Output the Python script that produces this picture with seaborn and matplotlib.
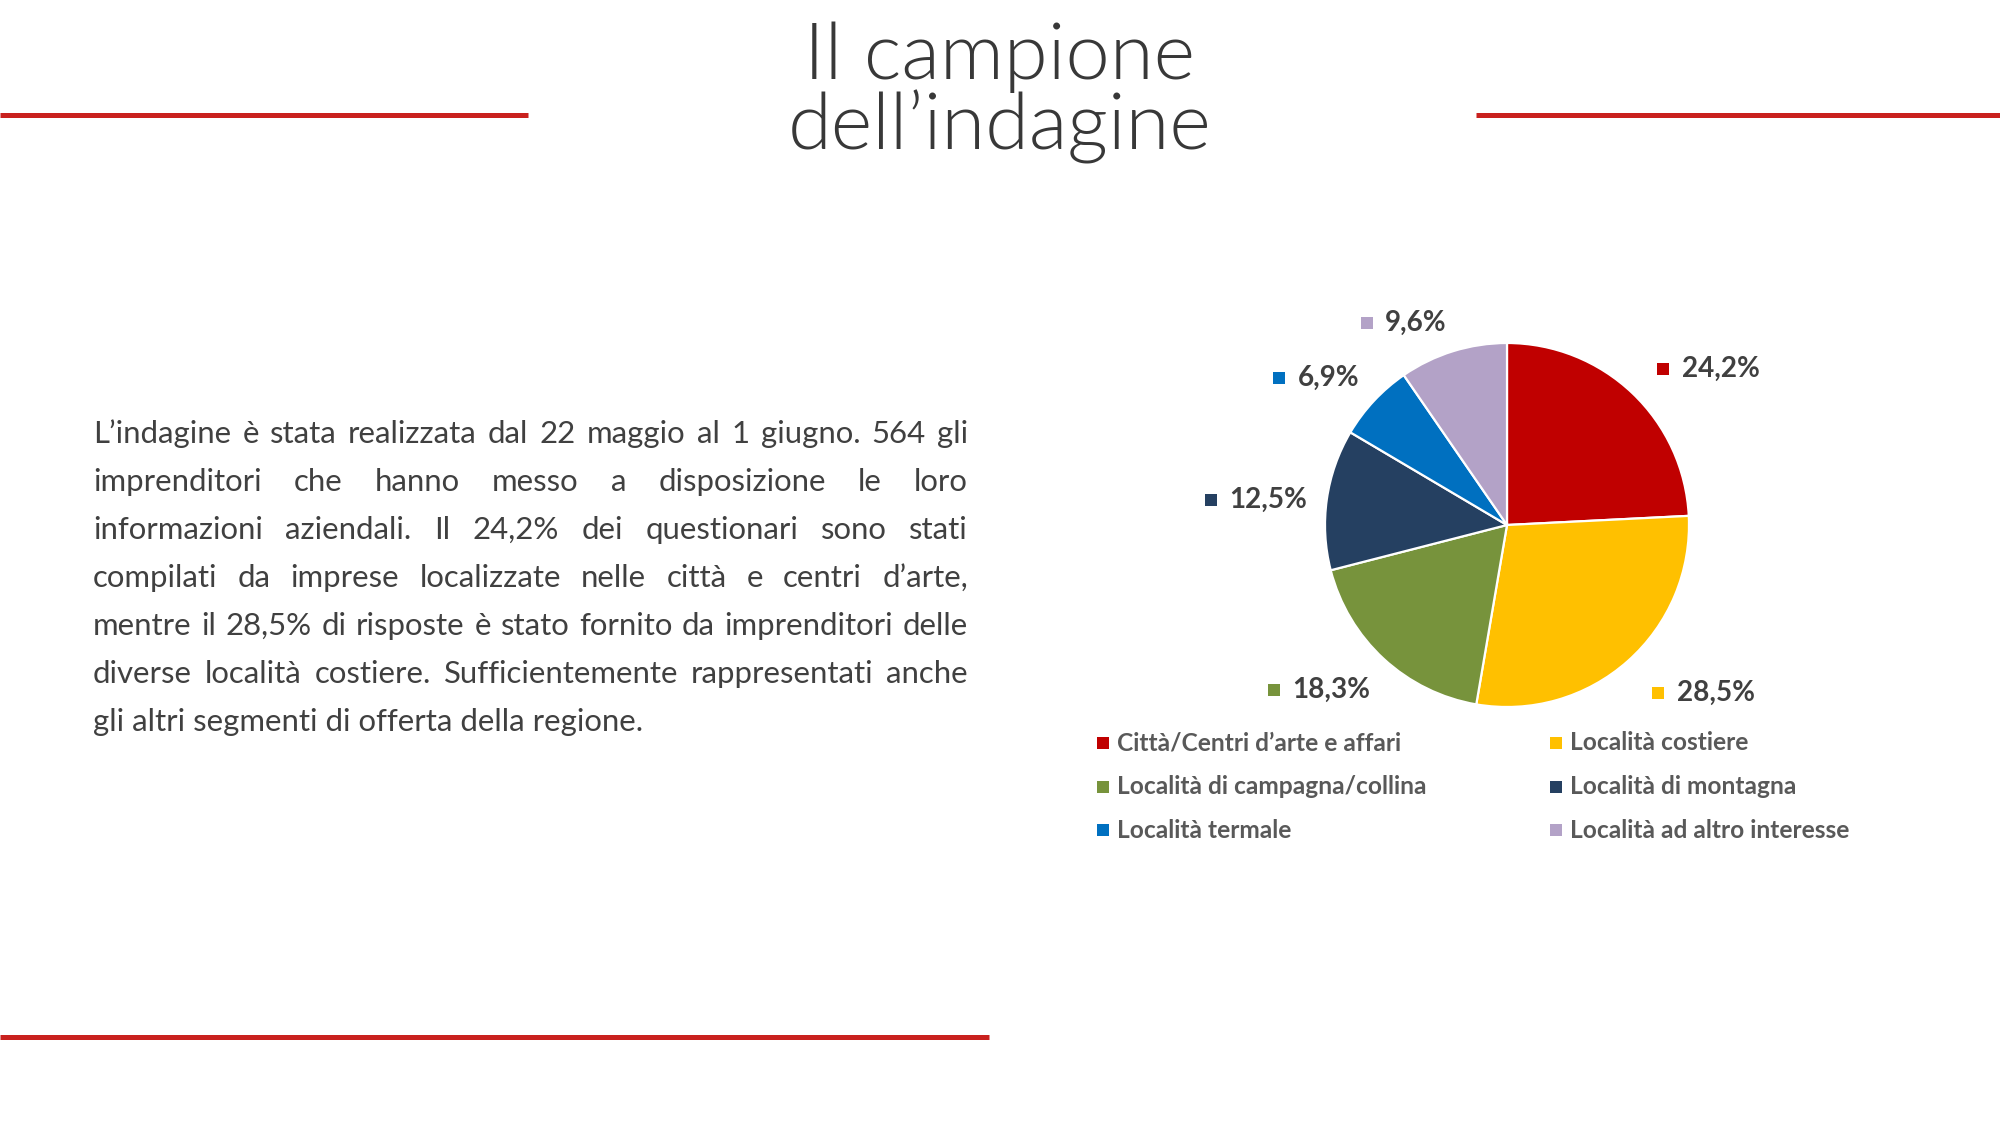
import matplotlib
matplotlib.use("Agg")
import matplotlib.pyplot as plt
import numpy as np
import seaborn as sns
from matplotlib.patches import Rectangle
from matplotlib.offsetbox import AnnotationBbox, HPacker, TextArea, DrawingArea

# dati del grafico
categorie = ["Città/Centri d’arte e affari", "Località costiere",
             "Località di campagna/collina", "Località di montagna",
             "Località termale", "Località ad altro interesse"]
quote = [24.2, 28.5, 18.3, 12.5, 6.9, 9.6]
colori = ["#C00000", "#FFC000", "#77933C", "#254061", "#0070C0", "#B3A2C7"]
etichette = [f"{v:.1f}".replace(".", ",") + "%" for v in quote]

titolo = ["Il campione", "dell’indagine"]
testo = [
    "L’indagine è stata realizzata dal 22 maggio al 1 giugno. 564 gli",
    "imprenditori che hanno messo a disposizione le loro",
    "informazioni aziendali. Il 24,2% dei questionari sono stati",
    "compilati da imprese localizzate nelle città e centri d’arte,",
    "mentre il 28,5% di risposte è stato fornito da imprenditori delle",
    "diverse località costiere. Sufficientemente rappresentati anche",
    "gli altri segmenti di offerta della regione.",
]

sns.set_theme(style="white")
plt.rcParams["font.family"] = ["Lato", "DejaVu Sans"]

W, H = 2000, 1125
fig = plt.figure(figsize=(20, 11.25), dpi=100, facecolor="white")
renderer = fig.canvas.get_renderer()

# asse di sfondo in pixel (y dall'alto)
bg = fig.add_axes([0, 0, 1, 1])
bg.set_xlim(0, W)
bg.set_ylim(H, 0)
bg.axis("off")


def misura(s, size, **kw):
    t = bg.text(0, 0, s, fontsize=size, **kw)
    w = t.get_window_extent(renderer).width
    t.remove()
    return w


grigio = "#404040"
rosso_linee = "#C9211E"

# linee rosse decorative
bg.plot([0, 528], [114.5, 114.5], color=rosso_linee, lw=3.6, solid_capstyle="butt")
bg.plot([1476, W], [114.5, 114.5], color=rosso_linee, lw=3.6, solid_capstyle="butt")
bg.plot([0, 989], [1036.5, 1036.5], color=rosso_linee, lw=3.6, solid_capstyle="butt")

# titolo
fs_tit = 40 * 390 / misura(titolo[0], 40, fontweight=300)
for riga, yb in zip(titolo, [79, 149]):
    bg.text(1000, yb, riga, fontsize=fs_tit, fontweight=300, color="#383838",
            ha="center", va="baseline")

# testo giustificato
x0, x1 = 93, 968
larg = x1 - x0
nat = max(misura(r, 20) for r in testo[:-1])
fs_txt = 20 * 0.985 * larg / nat
for i, riga in enumerate(testo):
    yb = 443 + i * 48
    parole = riga.split(" ")
    if i == len(testo) - 1:
        bg.text(x0, yb, riga, fontsize=fs_txt, color=grigio, va="baseline")
        continue
    wp = [misura(p, fs_txt) for p in parole]
    spazio = (larg - sum(wp)) / (len(parole) - 1)
    x = x0
    for p, w in zip(parole, wp):
        bg.text(x, yb, p, fontsize=fs_txt, color=grigio, va="baseline")
        x += w + spazio

# legenda
fs_leg = 15 * 285 / misura(categorie[0], 15, fontweight="bold")
col_x = [1097, 1550]
riga_y = [743, 787, 830]
for i, (cat, c) in enumerate(zip(categorie, colori)):
    xs = col_x[i % 2]
    ys = riga_y[i // 2]
    bg.add_patch(Rectangle((xs, ys - 6), 12, 12, facecolor=c, edgecolor="none"))
    bg.text(xs + 20, ys, cat, fontsize=fs_leg, fontweight="bold", color="#595959",
            va="center")

# torta
R = 182
cx, cy = 1507, 525
L = 1.7
pax = fig.add_axes([(cx - R * L) / W, (H - cy - R * L) / H, 2 * R * L / W, 2 * R * L / H])
wedges, _ = pax.pie(quote, colors=sns.color_palette(colori), startangle=90,
                    counterclock=False, radius=1,
                    wedgeprops=dict(edgecolor="white", linewidth=1.6))
pax.set_xlim(-L, L)
pax.set_ylim(-L, L)
pax.set_aspect("equal")
pax.axis("off")

fs_lab = 20 * 78 / misura(etichette[0], 20, fontweight="bold")
for w, lab, c in zip(wedges, etichette, colori):
    ang = np.deg2rad((w.theta1 + w.theta2) / 2)
    cs, sn = np.cos(ang), np.sin(ang)
    da = DrawingArea(8.6, 8.6)
    da.add_artist(Rectangle((0, 0), 8.6, 8.6, facecolor=c, edgecolor="none"))
    ta = TextArea(lab, textprops=dict(fontsize=fs_lab, fontweight="bold", color=grigio))
    box = HPacker(children=[da, ta], align="center", pad=0, sep=9)
    ha = 0 if cs > 0 else 1
    va = 0.5 if abs(sn) < 0.3 else (0 if sn > 0 else 1)
    dx = 8 if cs > 0 else 0
    ab = AnnotationBbox(box, (1.11 * cs, 1.11 * sn), xycoords="data",
                        xybox=(dx, -2.5), boxcoords="offset points",
                        box_alignment=(ha, va), frameon=False, pad=0)
    pax.add_artist(ab)

fig.savefig("out.png", dpi=100, facecolor="white")
